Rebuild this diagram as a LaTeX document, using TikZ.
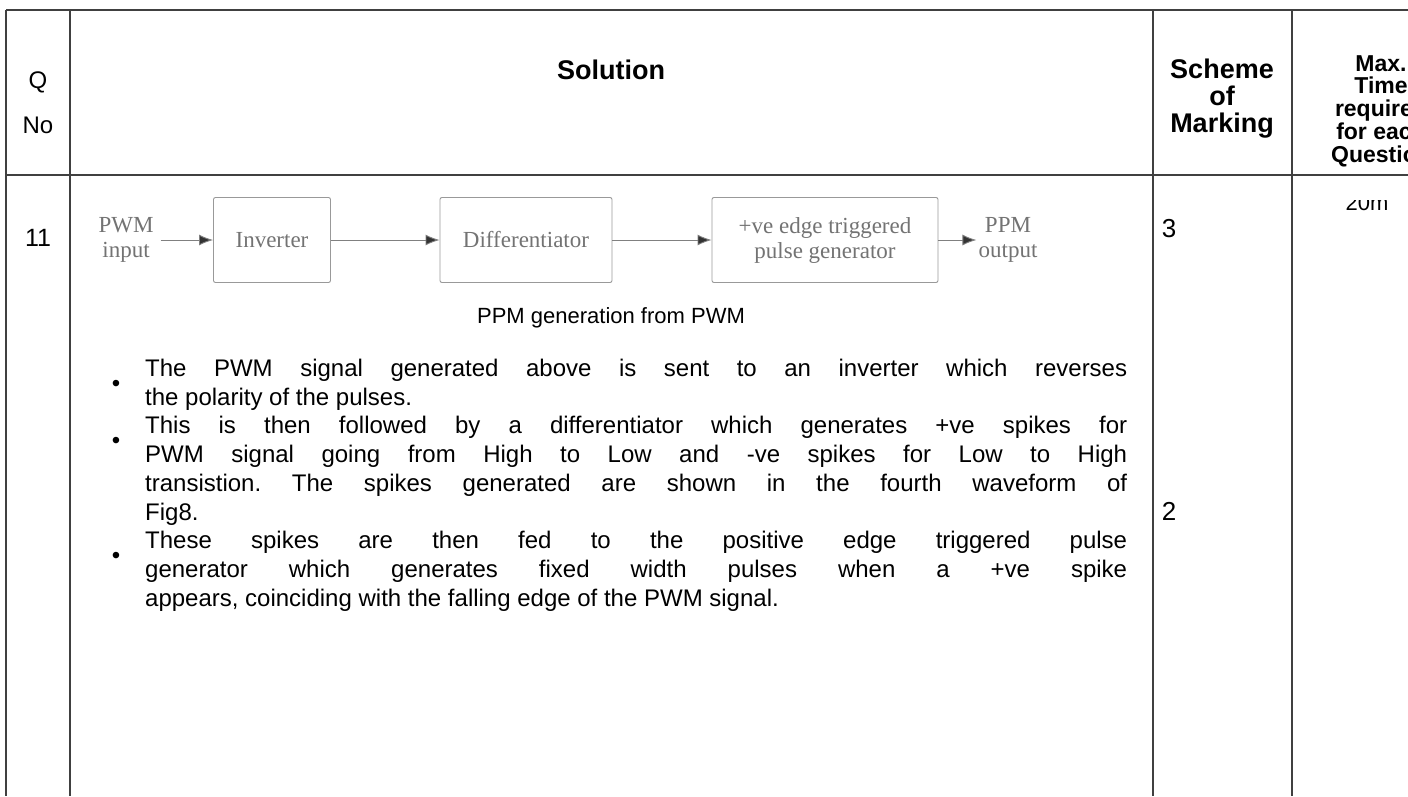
\documentclass[tikz,border=0pt]{standalone}
\usepackage{fontspec}
\setmainfont{Liberation Sans}
\newfontfamily\blockfont{Liberation Serif}
\usetikzlibrary{arrows.meta}

\tikzset{
  rule/.style={draw=black!75, line width=1.3pt},
  head/.style={font=\fontsize{27}{26.5}\selectfont\bfseries, align=center, inner sep=0pt},
  cell/.style={font=\fontsize{24}{28.7}\selectfont, inner sep=0pt},
  block/.style={draw=black!40, line width=0.9pt, rounded corners=2pt, minimum height=85pt,
    font=\blockfont\fontsize{23}{25}\selectfont, text=black!55, align=center},
  label/.style={font=\blockfont\fontsize{23}{25}\selectfont, text=black!55, align=center, inner sep=0pt},
  flow/.style={draw=black!50, line width=0.9pt, -{Latex[length=14pt,width=11pt,fill=black!80]}}
}

\begin{document}
\frenchspacing
\begin{tikzpicture}[x=1pt, y=-1pt]
\clip (0,0) rectangle (1408,796);
\fill[white] (0,0) rectangle (1408,796);

% table rules
\draw[rule] (6,10) -- (1408,10);
\draw[rule] (6,175) -- (1408,175);
\draw[rule] (6,10) -- (6,796);
\draw[rule] (70,10) -- (70,796);
\draw[rule] (1153,10) -- (1153,796);
\draw[rule] (1292,10) -- (1292,796);

% header row
\node[cell] (q) at (38,82) {Q};
\node[cell] (no) at (38,125) {No};
\node[head] (sol) at (611,70) {Solution};
\node[head, font=\fontsize{27}{27}\selectfont\bfseries] (scheme) at (1222,99) {Scheme\\of\\Marking};
\node[head, font=\fontsize{23}{22.8}\selectfont\bfseries] (maxtime) at (1381,111)
  {Max.\\Time\\required\\for each\\Question};

% question 11
\node[cell, font=\fontsize{25}{28}\selectfont] (qno) at (38,238) {11};
\node[cell, font=\fontsize{26}{28}\selectfont] (mark1) at (1169,229) {3};
\node[cell, font=\fontsize{26}{28}\selectfont] (mark2) at (1169,511) {2};
\begin{scope}
  \clip (1300,200) rectangle (1408,230);
  \node[cell, font=\fontsize{22}{24}\selectfont, anchor=base] (tmin) at (1367,210) {20m};
\end{scope}

% block diagram
\node[label, inner sep=7pt] (pwm) at (126,240) {PWM\\input};
\node[block, minimum width=117pt] (inv) at (272,240) {Inverter};
\node[block, minimum width=172pt] (diff) at (526,240) {Differentiator};
\node[block, minimum width=226pt] (pgen) at (825,240) {+ve edge triggered\\pulse generator};
\node[label, inner sep=2pt] (ppm) at (1008,240) {PPM\\output};

\draw[flow] (pwm) -- (inv);
\draw[flow] (inv) -- (diff);
\draw[flow] (diff) -- (pgen);
\draw[flow] (pgen) -- (ppm);

\node[cell, font=\fontsize{22}{28}\selectfont] (caption) at (611,318) {PPM generation from PWM};

% bullet points
\node[cell] (b1) at (116,386) {\textbullet};
\node[cell] (b2) at (116,443) {\textbullet};
\node[cell] (b3) at (116,558) {\textbullet};
\node[cell, anchor=north west, text width=982pt, align=justify] (notes) at (145,359)
{The PWM signal generated above is sent to an inverter which reverses\linebreak
the polarity of the pulses.\par
This is then followed by a differentiator which generates +ve spikes for\linebreak
PWM signal going from High to Low and -ve spikes for Low to High\linebreak
transistion. The spikes generated are shown in the fourth waveform of\linebreak
Fig8.\par
These spikes are then fed to the positive edge triggered pulse\linebreak
generator which generates fixed width pulses when a +ve spike\linebreak
appears, coinciding with the falling edge of the PWM signal.};
\end{tikzpicture}
\end{document}
